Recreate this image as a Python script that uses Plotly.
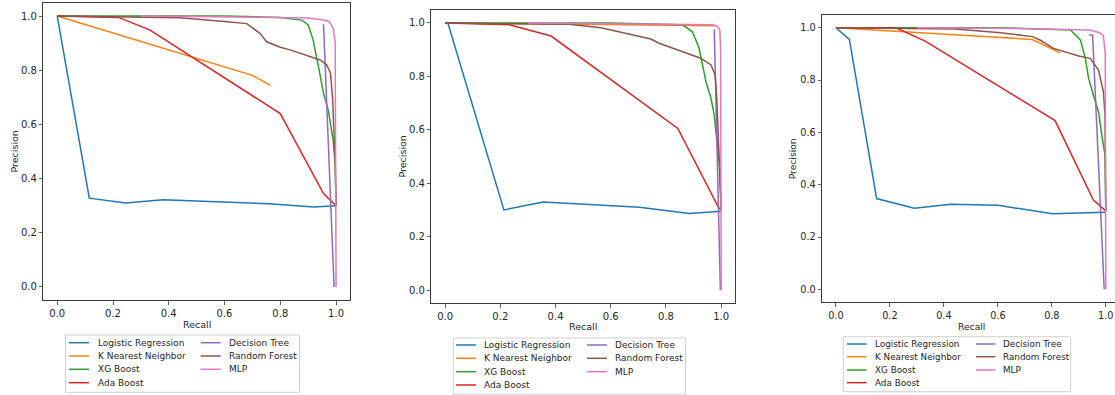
import plotly.graph_objects as go

# ---------------- data ----------------
models = ["Logistic Regression", "K Nearest Neighbor", "XG Boost", "Ada Boost",
          "Decision Tree", "Random Forest", "MLP"]
colors = ["#1f77b4", "#ff7f0e", "#2ca02c", "#d62728", "#9467bd", "#8c564b", "#e377c2"]
tick_vals = [0.0, 0.2, 0.4, 0.6, 0.8, 1.0]
tick_text = ["0.0", "0.2", "0.4", "0.6", "0.8", "1.0"]
x_title = "Recall"
y_title = "Precision"

# panel 1
p1_lr_recall = [0.0, 0.115, 0.245, 0.38, 0.76, 0.92, 1.0]
p1_lr_precision = [1.0, 0.328, 0.31, 0.322, 0.307, 0.295, 0.30]
p1_knn_recall = [0.0, 0.70, 0.765]
p1_knn_precision = [1.0, 0.781, 0.744]
p1_xgb_recall = [0.0, 0.3, 0.6, 0.8, 0.877, 0.90, 0.917, 0.937, 0.955, 0.972, 0.99, 0.997, 1.0]
p1_xgb_precision = [1.0, 1.0, 1.0, 0.995, 0.985, 0.967, 0.915, 0.813, 0.715, 0.653, 0.54, 0.45, 0.30]
p1_ada_recall = [0.0, 0.22, 0.333, 0.80, 0.955, 1.0]
p1_ada_precision = [1.0, 0.995, 0.948, 0.64, 0.345, 0.30]
p1_dt_recall = [0.955, 0.993]
p1_dt_precision = [0.97, 0.0]
p1_rf_recall = [0.0, 0.44, 0.6, 0.68, 0.727, 0.751, 0.8, 0.835, 0.943, 0.966, 0.98, 0.988, 0.997, 1.0]
p1_rf_precision = [1.0, 0.994, 0.98, 0.972, 0.936, 0.905, 0.885, 0.875, 0.838, 0.82, 0.79, 0.69, 0.45, 0.30]
p1_mlp_recall = [0.3, 0.6, 0.9, 0.955, 0.975, 0.99, 0.997, 1.0]
p1_mlp_precision = [1.0, 0.997, 0.993, 0.985, 0.98, 0.955, 0.90, 0.0]

# panel 2
p2_lr_recall = [0.0, 0.01, 0.213, 0.356, 0.704, 0.885, 1.0]
p2_lr_precision = [1.0, 1.0, 0.30, 0.33, 0.31, 0.287, 0.295]
p2_knn_recall = [0.0, 0.5, 0.98]
p2_knn_precision = [1.0, 0.995, 0.99]
p2_xgb_recall = [0.0, 0.3, 0.6, 0.86, 0.896, 0.92, 0.933, 0.945, 0.963, 0.975, 0.982, 0.993, 1.0]
p2_xgb_precision = [1.0, 1.0, 1.0, 0.993, 0.967, 0.905, 0.843, 0.78, 0.718, 0.655, 0.58, 0.48, 0.30]
p2_ada_recall = [0.0, 0.233, 0.384, 0.843, 0.99, 1.0]
p2_ada_precision = [1.0, 0.993, 0.951, 0.605, 0.31, 0.30]
p2_dt_recall = [0.975, 0.997]
p2_dt_precision = [0.976, 0.0]
p2_rf_recall = [0.0, 0.45, 0.564, 0.745, 0.775, 0.824, 0.926, 0.963, 0.978, 0.984, 0.993, 1.0]
p2_rf_precision = [1.0, 0.995, 0.982, 0.94, 0.924, 0.905, 0.868, 0.843, 0.805, 0.72, 0.5, 0.30]
p2_mlp_recall = [0.3, 0.97, 0.985, 0.995, 0.998, 1.0]
p2_mlp_precision = [1.0, 0.993, 0.988, 0.975, 0.90, 0.0]

# panel 3
p3_lr_recall = [0.0, 0.05, 0.151, 0.29, 0.426, 0.601, 0.802, 1.0]
p3_lr_precision = [1.0, 0.955, 0.347, 0.31, 0.325, 0.321, 0.289, 0.295]
p3_knn_recall = [0.0, 0.728, 0.831]
p3_knn_precision = [1.0, 0.955, 0.904]
p3_xgb_recall = [0.0, 0.3, 0.6, 0.869, 0.906, 0.924, 0.936, 0.954, 0.973, 0.985, 0.997, 1.0]
p3_xgb_precision = [1.0, 1.0, 1.0, 0.991, 0.953, 0.883, 0.807, 0.742, 0.679, 0.59, 0.513, 0.30]
p3_ada_recall = [0.0, 0.222, 0.331, 0.812, 0.954, 1.0]
p3_ada_precision = [1.0, 1.0, 0.949, 0.645, 0.341, 0.30]
p3_dt_recall = [0.938, 0.951, 0.994]
p3_dt_precision = [0.972, 0.972, 0.0]
p3_rf_recall = [0.0, 0.44, 0.6, 0.728, 0.756, 0.806, 0.9, 0.942, 0.973, 0.991, 0.997, 1.0]
p3_rf_precision = [1.0, 0.995, 0.982, 0.966, 0.953, 0.921, 0.892, 0.883, 0.838, 0.755, 0.666, 0.30]
p3_mlp_recall = [0.3, 0.6, 0.9, 0.944, 0.975, 0.991, 0.998, 1.0]
p3_mlp_precision = [1.0, 0.998, 0.992, 0.99, 0.982, 0.97, 0.90, 0.0]

panels = [
    [(p1_lr_recall, p1_lr_precision), (p1_knn_recall, p1_knn_precision),
     (p1_xgb_recall, p1_xgb_precision), (p1_ada_recall, p1_ada_precision),
     (p1_dt_recall, p1_dt_precision), (p1_rf_recall, p1_rf_precision),
     (p1_mlp_recall, p1_mlp_precision)],
    [(p2_lr_recall, p2_lr_precision), (p2_knn_recall, p2_knn_precision),
     (p2_xgb_recall, p2_xgb_precision), (p2_ada_recall, p2_ada_precision),
     (p2_dt_recall, p2_dt_precision), (p2_rf_recall, p2_rf_precision),
     (p2_mlp_recall, p2_mlp_precision)],
    [(p3_lr_recall, p3_lr_precision), (p3_knn_recall, p3_knn_precision),
     (p3_xgb_recall, p3_xgb_precision), (p3_ada_recall, p3_ada_precision),
     (p3_dt_recall, p3_dt_precision), (p3_rf_recall, p3_rf_precision),
     (p3_mlp_recall, p3_mlp_precision)],
]

# ---------------- geometry / style ----------------
W, H = 1115, 395
FONT = "DejaVu Sans"
TXT = "#262626"
AX = "#3a3a3a"


def fx(x):
    return x / W


def fy(y):
    return 1 - y / H


# axes boxes in pixels: left, top, right, bottom
boxes = [(43.3, 3.3, 350.0, 300.0), (431.3, 9.6, 735.0, 303.4), (822.2, 14.5, 1115.0, 302.4)]
xranges = [[-0.05, 1.05], [-0.05, 1.05], [-0.0507, 1.034]]
yranges = [[-0.048, 1.047], [-0.05, 1.05], [-0.05, 1.0505]]
tick_sizes = [10, 10, 9.7]
label_sizes = [9.5, 9.5, 9.2]
legend_sizes = [9, 9, 8.8]
recall_pos = [(196.7, 324), (583.3, 326), (971.0, 326)]
precision_pos = [(13.5, 152), (401.5, 157), (793.3, 159)]
# legend: box, row centres, col1 line/text, col2 line/text
legend_box = [(65.5, 335.0, 299.5, 392.3), (453.3, 338.0, 685.5, 394.0), (843.3, 336.7, 1070.7, 391.7)]
legend_rows = [[342.7, 356.0, 369.3, 382.7], [345.0, 358.3, 371.7, 385.0], [344.0, 356.7, 370.0, 382.7]]
legend_cols = [[(69.0, 89.0, 95.5), (200.7, 220.7, 227.3)],
               [(456.0, 476.0, 482.0), (587.0, 607.0, 613.0)],
               [(847.0, 866.5, 872.5), (976.0, 995.5, 1001.0)]]

fig = go.Figure()
layout = dict(width=W, height=H, margin=dict(l=0, r=0, t=0, b=0),
              paper_bgcolor="white", plot_bgcolor="white", showlegend=False,
              font=dict(family=FONT, color=TXT))
shapes = []
annotations = []

for i, series in enumerate(panels):
    sx = "" if i == 0 else str(i + 1)
    for j, (r, p) in enumerate(series):
        fig.add_trace(go.Scatter(x=r, y=p, mode="lines", name=models[j],
                                 line=dict(color=colors[j], width=1.5),
                                 xaxis="x" + sx, yaxis="y" + sx, showlegend=False))
    l, t, rr, b = boxes[i]
    common = dict(showgrid=False, zeroline=False, showline=True, linecolor=AX, linewidth=1,
                  ticks="outside", ticklen=3.5, tickwidth=0.8, tickcolor=AX,
                  tickvals=tick_vals, ticktext=tick_text,
                  tickfont=dict(family=FONT, size=tick_sizes[i], color=TXT), fixedrange=True)
    layout["xaxis" + sx] = dict(common, domain=[fx(l), fx(rr)], range=xranges[i],
                                anchor="y" + sx, mirror=True)
    layout["yaxis" + sx] = dict(common, domain=[fy(b), fy(t)], range=yranges[i],
                                anchor="x" + sx, mirror=(i < 2))
    # axis titles
    annotations.append(dict(x=fx(recall_pos[i][0]), y=fy(recall_pos[i][1]), xref="paper", yref="paper",
                            text=x_title, showarrow=False, xanchor="center", yanchor="middle",
                            font=dict(family=FONT, size=label_sizes[i], color=TXT)))
    annotations.append(dict(x=fx(precision_pos[i][0]), y=fy(precision_pos[i][1]), xref="paper", yref="paper",
                            text=y_title, showarrow=False, xanchor="center", yanchor="middle", textangle=-90,
                            font=dict(family=FONT, size=label_sizes[i], color=TXT)))
    # legend frame
    bl, bt, br, bb = legend_box[i]
    shapes.append(dict(type="rect", xref="paper", yref="paper", x0=fx(bl), x1=fx(br), y0=fy(bb), y1=fy(bt),
                       line=dict(color="#d0d0d0", width=1), fillcolor="rgba(255,255,255,0.8)", layer="above"))
    for j, name in enumerate(models):
        col = 0 if j < 4 else 1
        row = j if j < 4 else j - 4
        x0, x1, xt = legend_cols[i][col]
        yc = legend_rows[i][row]
        shapes.append(dict(type="line", xref="paper", yref="paper", x0=fx(x0), x1=fx(x1), y0=fy(yc), y1=fy(yc),
                           line=dict(color=colors[j], width=1.5), layer="above"))
        annotations.append(dict(x=fx(xt), y=fy(yc), xref="paper", yref="paper", text=name, showarrow=False,
                                xanchor="left", yanchor="middle",
                                font=dict(family=FONT, size=legend_sizes[i], color=TXT)))

layout["shapes"] = shapes
layout["annotations"] = annotations
fig.update_layout(**layout)

fig.write_html("out.html", config={"displayModeBar": False, "staticPlot": True},
               post_script="document.body.style.margin='0';document.body.style.overflow='hidden';")
